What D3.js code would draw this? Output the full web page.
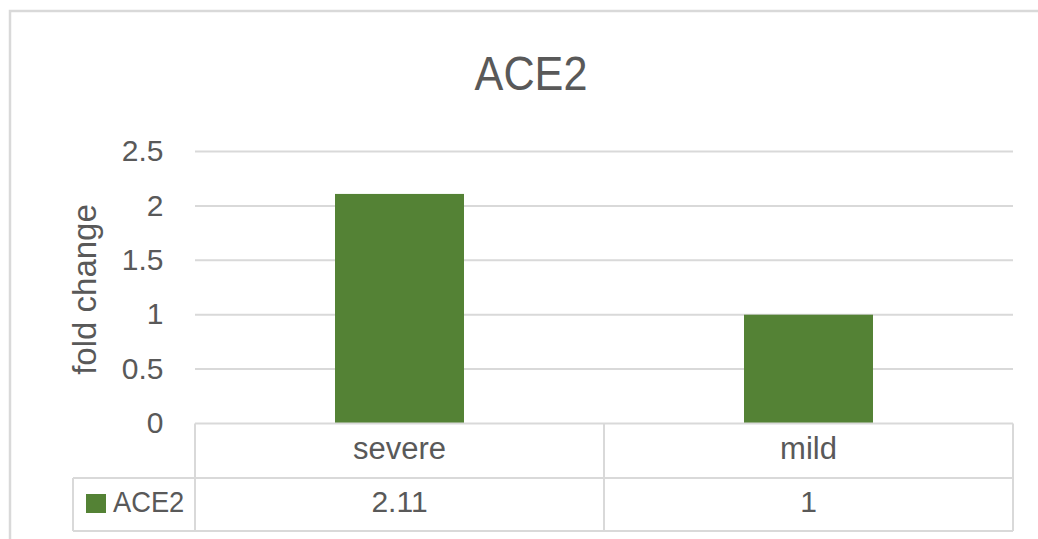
<!DOCTYPE html>
<html>
<head>
<meta charset="utf-8">
<script src="https://cdn.jsdelivr.net/npm/d3@7"></script>
<style>
  html, body { margin: 0; padding: 0; background: #ffffff; }
  svg { display: block; }
  text { font-family: "Liberation Sans", Arial, sans-serif; fill: #595959; }
</style>
</head>
<body>
<div id="chart"></div>
<script>
// ---- data ----
const chartTitle = "ACE2";
const seriesName = "ACE2";
const categories = ["severe", "mild"];
const values = [2.11, 1];
const valueLabels = ["2.11", "1"];
const yTicks = [0, 0.5, 1, 1.5, 2, 2.5];
const yTickLabels = ["0", "0.5", "1", "1.5", "2", "2.5"];
const yAxisTitle = "fold change";

// ---- layout ----
const W = 1038, H = 539;
const plot = { left: 195, right: 1013, top: 151.5, bottom: 423.5 };
const rowMid = 478, rowBottom = 531, legendLeft = 73;
const barColor = "#548235";
const lineColor = "#d9d9d9";

const svg = d3.select("#chart").append("svg")
  .attr("width", W).attr("height", H);

// chart border
svg.append("rect")
  .attr("x", 10).attr("y", 11).attr("width", 1060).attr("height", 560)
  .attr("fill", "none").attr("stroke", lineColor).attr("stroke-width", 2.5);

// scales
const y = d3.scaleLinear().domain([0, 2.5]).range([plot.bottom, plot.top]);
const pad = 0.6846;
const x = d3.scaleBand().domain(categories).range([plot.left, plot.right])
  .paddingInner(pad).paddingOuter(pad / 2);
const center = c => x(c) + x.bandwidth() / 2;

// gridlines
svg.append("g").selectAll("line").data(yTicks.filter(t => t > 0)).join("line")
  .attr("x1", plot.left).attr("x2", plot.right)
  .attr("y1", d => y(d)).attr("y2", d => y(d))
  .attr("stroke", lineColor).attr("stroke-width", 2);

// y tick labels
svg.append("g").selectAll("text").data(yTicks).join("text")
  .attr("x", 163.5).attr("y", d => y(d)).attr("dy", "0.32em")
  .attr("text-anchor", "end").attr("font-size", 30)
  .text((d, i) => yTickLabels[i]);

// y axis title
svg.append("text")
  .attr("transform", `translate(96,${(plot.top + plot.bottom) / 2 + 2}) rotate(-90)`)
  .attr("text-anchor", "middle").attr("font-size", 33)
  .text(yAxisTitle);

// bars
svg.append("g").selectAll("rect").data(categories).join("rect")
  .attr("x", d => x(d)).attr("width", x.bandwidth())
  .attr("y", (d, i) => y(values[i]))
  .attr("height", (d, i) => y(0) - y(values[i]))
  .attr("fill", barColor);

// title
svg.append("text")
  .attr("transform", "translate(531,90) scale(0.9,1)")
  .attr("text-anchor", "middle").attr("font-size", 48)
  .text(chartTitle);

// ---- data table ----
const step = x.step();
const tbl = svg.append("g").attr("stroke", lineColor).attr("stroke-width", 2).attr("fill", "none");
// top line (axis)
tbl.append("line").attr("x1", plot.left).attr("x2", plot.right).attr("y1", y(0)).attr("y2", y(0));
// middle and bottom
tbl.append("line").attr("x1", legendLeft).attr("x2", plot.right).attr("y1", rowMid).attr("y2", rowMid);
tbl.append("line").attr("x1", legendLeft).attr("x2", plot.right).attr("y1", rowBottom).attr("y2", rowBottom);
// legend cell left
tbl.append("line").attr("x1", legendLeft).attr("x2", legendLeft).attr("y1", rowMid).attr("y2", rowBottom);
// column boundaries
const edges = [plot.left].concat(categories.map(c => center(c) + step / 2));
tbl.selectAll("line.v").data(edges).join("line").attr("class", "v")
  .attr("x1", d => d).attr("x2", d => d).attr("y1", y(0)).attr("y2", rowBottom);

// category labels
svg.append("g").selectAll("text").data(categories).join("text")
  .attr("x", d => center(d)).attr("y", 459)
  .attr("text-anchor", "middle").attr("font-size", 31)
  .text(d => d);

// values
svg.append("g").selectAll("text").data(categories).join("text")
  .attr("x", d => center(d)).attr("y", 512)
  .attr("text-anchor", "middle").attr("font-size", 30)
  .text((d, i) => valueLabels[i]);

// legend key
svg.append("rect").attr("x", 86).attr("y", 494).attr("width", 20).attr("height", 19)
  .attr("fill", barColor);
svg.append("text")
  .attr("transform", "translate(113,512) scale(0.91,1)")
  .attr("font-size", 30)
  .text(seriesName);
</script>
</body>
</html>
